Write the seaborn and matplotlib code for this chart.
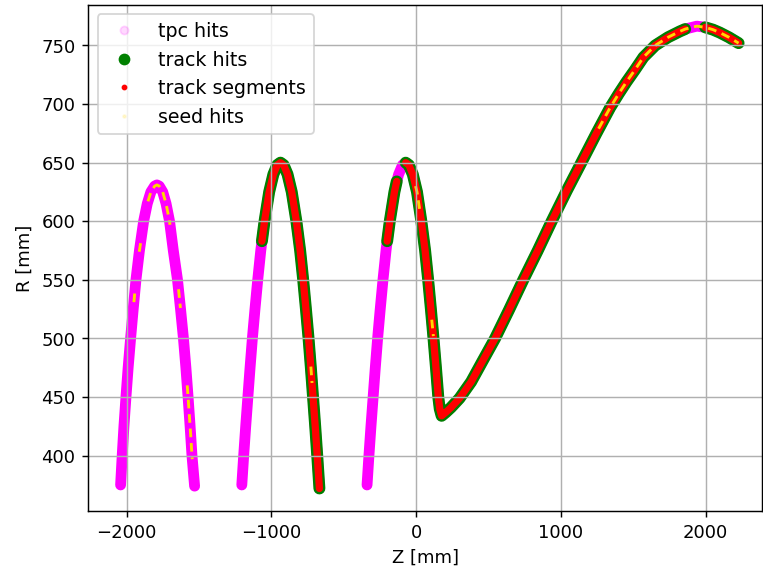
"""
Z-R view of a looping track: tpc hits, track hits, track segments and seed hits.
"""

import pandas as pd
import matplotlib
matplotlib.use('Agg')
import matplotlib.pyplot as plt
from matplotlib.lines import Line2D
import seaborn as sns

# --- hit positions (Z, R in mm) ---
arc1_z = [-2041, -2030, -2018, -2004, -1989, -1972, -1954, -1935, -1911,
          -1882, -1857, -1832, -1806, -1790, -1774, -1750, -1727, -1703,
          -1677, -1648, -1627, -1607, -1590, -1575, -1561, -1548, -1530]
arc1_r = [375, 400, 425, 450, 475, 500, 525, 550, 575,
          600, 615, 625, 630, 631, 630, 625, 615, 600,
          575, 550, 525, 500, 475, 450, 425, 400, 374]

arc2_z = [-1204, -1191, -1177, -1162, -1147, -1131, -1113, -1094, -1073,
          -1065, -1047, -1015, -986, -959, -937, -915, -888, -859,
          -827, -801, -780, -761, -743, -727, -712, -697, -683, -668]
arc2_r = [375, 400, 425, 450, 475, 500, 525, 550, 575,
          583, 600, 625, 640, 648, 650, 648, 640, 625,
          600, 575, 550, 525, 500, 475, 450, 425, 400, 372]

# third arc running straight into the big outgoing arc
arc3_z = [-339, -326, -312, -297, -282, -266, -248, -229, -208, -200,
          -182, -150, -134, -121, -94, -72, -50, -23, 6, 36,
          62, 83, 102, 120, 137, 153, 163, 176,
          205, 240, 300, 380, 460, 545, 640, 740, 840, 936,
          1040, 1145, 1245, 1340, 1400, 1453, 1510, 1570, 1651, 1740,
          1821, 1858, 1939, 1996, 2050, 2097, 2160, 2227]
arc3_r = [375, 400, 425, 450, 475, 500, 525, 550, 575, 583,
          600, 625, 634, 640, 648, 650, 648, 640, 625, 600,
          575, 550, 525, 500, 475, 450, 440, 434,
          437, 441, 449, 463, 481, 500, 524, 550, 575, 600,
          626, 651, 675, 697, 709, 719, 729, 740, 750, 757,
          762, 764, 766.5, 765.5, 763.5, 761, 757, 752]

# Z ranges of the arcs that carry track hits / track segments
track_arc2 = [(-1065, -668)]
track_arc3 = [(-200, -134), (-72, 1858), (1996, 2227)]

# seed hits, short pieces along the arcs
seed_z = [[-1949, -1941], [-1912, -1900],
          [-1852, -1832, -1806, -1790, -1774, -1750, -1727, -1703, -1700],
          [-1641, -1628], [-1581, -1575, -1561, -1548, -1546],
          [-727, -719], [-4, 6, 28], [108, 119],
          [1260, 1340, 1400, 1453, 1510, 1570, 1651, 1740, 1821, 1858,
           1939, 1996, 2050, 2097, 2160, 2227]]
seed_r = [[531, 542], [574, 584],
          [617, 625, 630, 631, 630, 625, 615, 600, 597],
          [542, 526], [460, 450, 425, 400, 397],
          [476, 462], [630, 625, 607], [516, 502],
          [679, 697, 709, 719, 729, 740, 750, 757, 762, 764,
           766.5, 765.5, 763.5, 761, 757, 752]]


def to_frame(segments):
    rows = []
    for i, (zs, rs) in enumerate(segments):
        for z, r in zip(zs, rs):
            rows.append({'z': z, 'r': r, 'seg': i})
    return pd.DataFrame(rows)


def pick(zs, rs, ranges):
    out = []
    for lo, hi in ranges:
        keep = [(z, r) for z, r in zip(zs, rs) if lo <= z <= hi]
        out.append(([k[0] for k in keep], [k[1] for k in keep]))
    return out


tpc_df = to_frame([(arc1_z, arc1_r), (arc2_z, arc2_r), (arc3_z, arc3_r)])
track_df = to_frame(pick(arc2_z, arc2_r, track_arc2) + pick(arc3_z, arc3_r, track_arc3))
seed_df = to_frame(list(zip(seed_z, seed_r)))

# --- plot ---
fig = plt.figure(figsize=(763.2 / 130, 569.2 / 130), dpi=130)
ax = fig.add_axes([88 / 763, 58 / 569, 674 / 763, 506 / 569])

line_kws = dict(x='z', y='r', units='seg', estimator=None, sort=False,
                legend=False, ax=ax, zorder=1)
round_kws = dict(solid_capstyle='round', solid_joinstyle='round')

sns.lineplot(data=tpc_df, color='magenta', lw=6.0, **round_kws, **line_kws)
sns.lineplot(data=track_df, color='green', lw=6.6, **round_kws, **line_kws)
sns.lineplot(data=track_df, color='red', lw=4.0, **round_kws, **line_kws)
sns.lineplot(data=seed_df, color='gold', lw=1.6, linestyle=(0, (3, 2)), **line_kws)

ax.set_xlim(-2266, 2390)
ax.set_ylim(352.8, 784.7)
ax.set_xticks([-2000, -1000, 0, 1000, 2000])
ax.set_yticks(range(400, 751, 50))
ax.grid(True)
ax.set_xlabel('Z [mm]')
ax.set_ylabel('R [mm]')

handles = [
    Line2D([], [], marker='o', ls='none', color='magenta', alpha=0.15, ms=4.5),
    Line2D([], [], marker='o', ls='none', color='green', ms=5.5),
    Line2D([], [], marker='o', ls='none', color='red', ms=2.2),
    Line2D([], [], marker='o', ls='none', color='gold', alpha=0.15, ms=1.5),
]
ax.legend(handles, ['tpc hits', 'track hits', 'track segments', 'seed hits'],
          loc='upper left', fontsize=10.5)

fig.savefig('out.png', dpi=130)
